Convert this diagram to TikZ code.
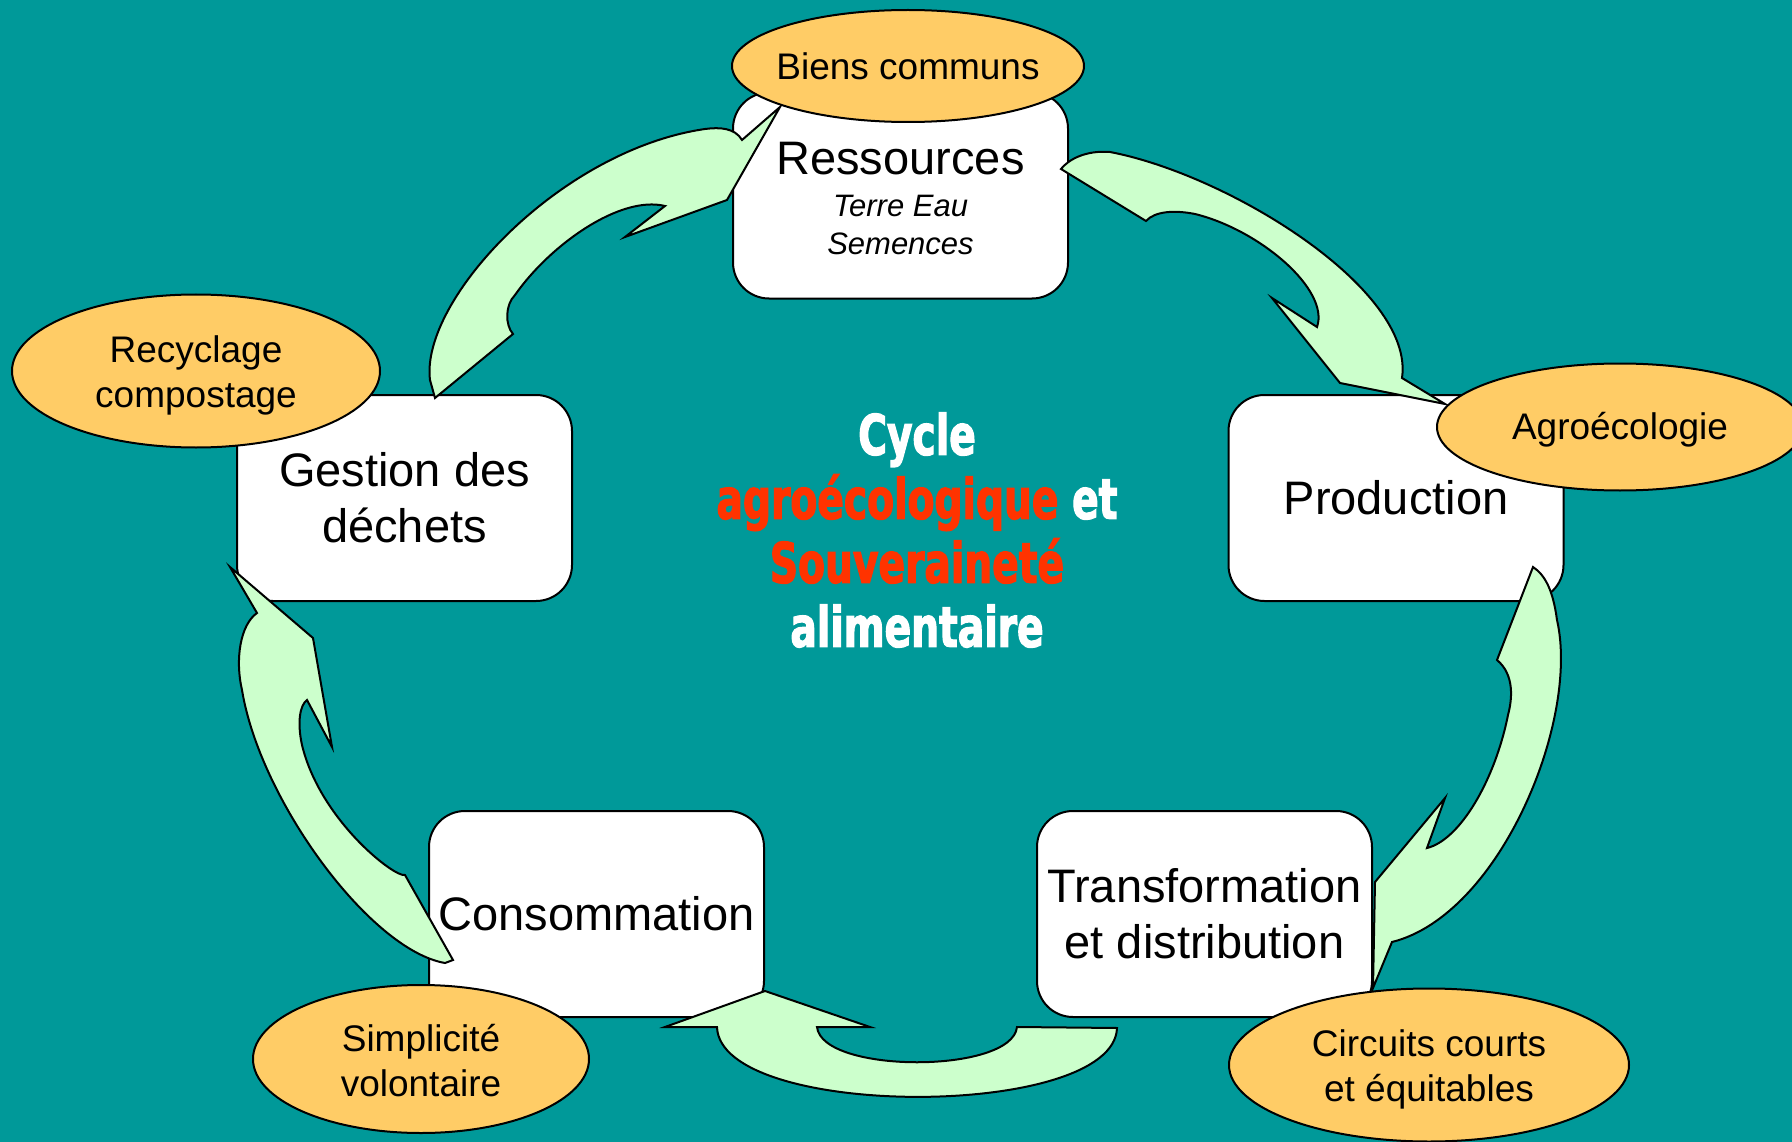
\documentclass[tikz,border=0pt]{standalone}
\usepackage{fontspec}
\setmainfont{Liberation Sans}
\newfontfamily\titlefont[FakeStretch=0.70,FakeBold=2]{DejaVu Sans Bold}
\usetikzlibrary{shapes.geometric}
\definecolor{fond}{HTML}{009999}
\definecolor{vert}{HTML}{CCFFCC}
\definecolor{ocre}{HTML}{FFCC66}
\definecolor{rouge}{HTML}{FF3300}
\newcommand\sousTitre[1]{{\fontsize{31}{38}\selectfont\itshape #1}}
\newcommand\haut[1]{\rule{0pt}{#1}}

\begin{document}
\begin{tikzpicture}[x=1pt, y=-1pt,
  etape/.style={draw, fill=white, line width=2pt, rounded corners=36pt,
    minimum width=335pt, minimum height=206pt, align=center,
    font=\fontsize{47}{56}\selectfont},
  bulle/.style={ellipse, draw, fill=ocre, line width=2pt, inner sep=0pt,
    align=center, font=\fontsize{37}{45}\selectfont},
  fleche/.style={draw, fill=vert, line width=2pt, line join=miter}]
  \clip (0,0) rectangle (1792,1142);
  \fill[fond] (0,0) rectangle (1792,1142);

  \node[etape] (Res) at (900.5,195.5) {\haut{38pt}Ressources\\[-14pt]\sousTitre{Terre Eau}\\[-18pt]\sousTitre{Semences}};
  \node[etape] (Gest) at (404.5,498) {Gestion des\\déchets};
  \node[etape] (Prod) at (1396,498) {Production};
  \node[etape] (Cons) at (596.5,914) {Consommation};
  \node[etape] (Trans) at (1204.5,914) {Transformation\\et distribution};

  \node[align=center, text=white, font=\titlefont\fontsize{56}{64}\selectfont] (Titre) at (917,530)
    {Cycle\\\textcolor{rouge}{agroécologique} et\\\textcolor{rouge}{Souveraineté}\\alimentaire};

  % Ressources -> Production
  \draw[fleche] (1061,169) -- (1146,221)
    .. controls (1155,211) and (1175,210) .. (1195,214)
    .. controls (1260,230) and (1330,290) .. (1317,327)
    -- (1272,298) -- (1340,383) -- (1445,404) -- (1402,378)
    .. controls (1415,290) and (1230,175) .. (1110,152)
    .. controls (1085,150) and (1068,160) .. (1061,169) -- cycle;
  % Production -> Transformation
  \draw[fleche] (1533,567) -- (1497,660)
    .. controls (1515,675) and (1512,700) .. (1508,715)
    .. controls (1495,780) and (1460,840) .. (1427,848)
    -- (1445,798) -- (1375,882) -- (1373,988) -- (1392,942)
    .. controls (1500,915) and (1580,720) .. (1557,620)
    .. controls (1553,590) and (1545,575) .. (1533,567) -- cycle;
  % Transformation -> Consommation
  \draw[fleche] (1117,1028) -- (1017,1027)
    .. controls (1012,1074) and (822,1074) .. (817,1027)
    -- (870,1027) -- (765,991) -- (665,1027) -- (717,1027)
    .. controls (720,1120) and (1114,1120) .. (1117,1028) -- cycle;
  % Consommation -> Gestion
  \draw[fleche] (453,960) -- (405,875)
    .. controls (395,878) and (320,820) .. (302,745)
    .. controls (297,722) and (300,705) .. (307,700)
    -- (332,747) -- (313,638) -- (230,567) -- (257,613)
    .. controls (240,625) and (235,660) .. (242,690)
    .. controls (260,800) and (370,950) .. (445,963) -- cycle;
  % Gestion -> Ressources
  \draw[fleche] (435,398) -- (513,334)
    .. controls (505,325) and (505,305) .. (515,295)
    .. controls (550,245) and (620,195) .. (665,206)
    -- (625,237) -- (727,200) -- (780,107) -- (742,140)
    .. controls (735,128) and (720,127) .. (705,129)
    .. controls (560,150) and (420,300) .. (430,380) -- cycle;

  \node[bulle, inner xsep=-14pt, minimum width=352pt, minimum height=112pt] (Biens) at (908,66) {Biens communs};
  \node[bulle, minimum width=368pt, minimum height=153pt] (Recyc) at (196,371) {\haut{36pt}Recyclage\\compostage};
  \node[bulle, minimum width=366pt, minimum height=127pt] (Agro) at (1620,427) {\haut{33pt}Agroécologie};
  \node[bulle, minimum width=336pt, minimum height=148pt] (Simpl) at (421,1059) {\haut{30pt}Simplicité\\volontaire};
  \node[bulle, minimum width=400pt, minimum height=153pt] (Circ) at (1429,1065) {\haut{36pt}Circuits courts\\et équitables};
\end{tikzpicture}
\end{document}
